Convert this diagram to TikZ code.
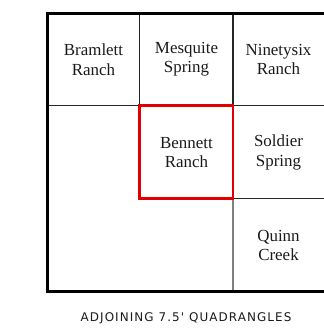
\documentclass[tikz,border=0pt]{standalone}
\usepackage{fontspec}
\setmainfont{Liberation Serif}
\newfontfamily\capfont[LetterSpace=9]{DejaVu Sans}
\definecolor{boxred}{HTML}{E00000}
\definecolor{inktext}{HTML}{1A1A1A}
\begin{document}
\begin{tikzpicture}[x=1bp,y=-1bp,
  cell/.style={align=center,font=\fontsize{17}{19.5}\selectfont,text=inktext,inner sep=0pt},
  capt/.style={font=\capfont\fontsize{12}{14}\selectfont,text=inktext,inner sep=0pt},
  outerline/.style={draw=black,line width=2.7bp},
  gridline/.style={draw=black!85,line width=1.1bp},
  greyline/.style={draw=black!50,line width=1.3bp},
  focus/.style={draw=boxred,line width=2.8bp}]
\useasboundingbox (0,0) rectangle (324,335);
\fill[white] (0,0) rectangle (324,335);
\begin{scope}
\clip (0,0) rectangle (324,335);
\coordinate (tl) at (47.3,13.7);
\coordinate (br) at (330,291.3);
\coordinate (c1top) at (139.7,13.7);
\coordinate (c1mid) at (139.7,105.3);
\coordinate (c2top) at (233,13.7);
\coordinate (c2mid) at (233,198.8);
\coordinate (c2bot) at (233,291.3);
\coordinate (r1left) at (47.3,105.3);
\coordinate (r1right) at (330,105.3);
\coordinate (r2right) at (330,198.8);
\draw[gridline] (c1top) -- (c1mid);
\draw[gridline] (c2top) -- (c2mid);
\draw[greyline] (c2mid) -- (c2bot);
\draw[gridline] (r1left) -- (r1right);
\draw[gridline] (c2mid) -- (r2right);
\draw[outerline] (tl) rectangle (br);
\draw[focus] (c1mid) rectangle (c2mid);
\end{scope}
\node[cell] (bramlett) at (93.5,59.5) {Bramlett\\Ranch};
\node[cell] (mesquite) at (186.5,59.5) {Mesquite\\Spring};
\node[cell] (ninetysix) at (278.5,59.5) {Ninetysix\\Ranch};
\node[cell] (bennett) at (186.5,152.5) {Bennett\\Ranch};
\node[cell] (soldier) at (278.5,152.5) {Soldier\\Spring};
\node[cell] (quinn) at (278.5,245.5) {Quinn\\Creek};
\node[capt] (caption) at (186,318.5) {ADJOINING 7.5' QUADRANGLES};
\end{tikzpicture}
\end{document}
